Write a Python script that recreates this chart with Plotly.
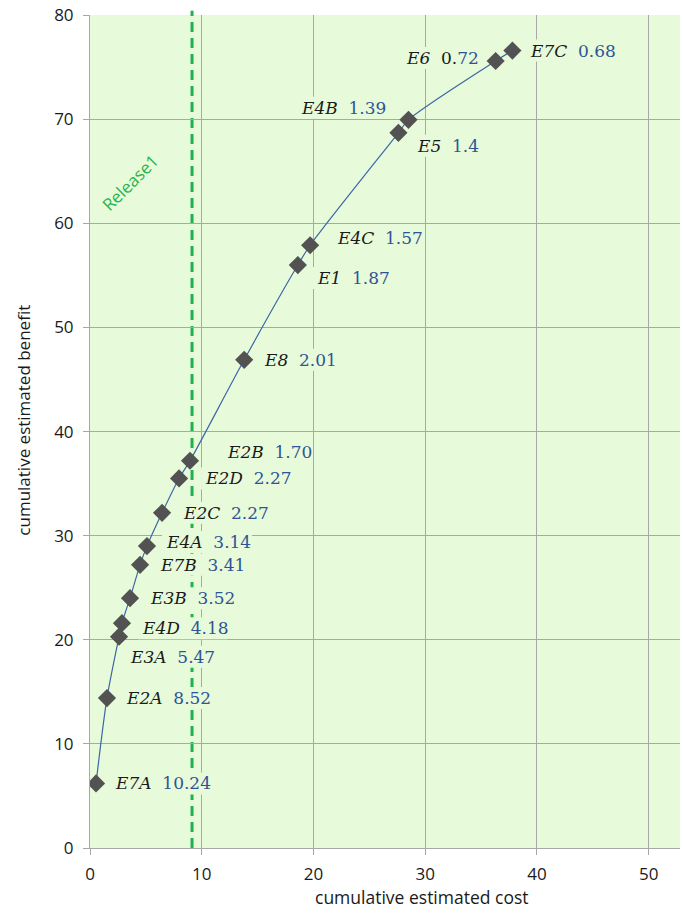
import plotly.graph_objects as go

# ---- data ----
names = ["E7A", "E2A", "E3A", "E4D", "E3B", "E7B", "E4A", "E2C", "E2D", "E2B",
         "E8", "E1", "E4C", "E5", "E4B", "E6", "E7C"]
ratios = ["10.24", "8.52", "5.47", "4.18", "3.52", "3.41", "3.14", "2.27", "2.27", "1.70",
          "2.01", "1.87", "1.57", "1.4", "1.39", "0.72", "0.68"]
cum_cost = [0.54, 1.52, 2.6, 2.86, 3.58, 4.48, 5.1, 6.45, 7.97, 8.95,
            13.8, 18.6, 19.7, 27.6, 28.5, 36.3, 37.8]
cum_benefit = [6.2, 14.4, 20.3, 21.6, 24.0, 27.2, 29.0, 32.2, 35.5, 37.2,
               46.9, 56.0, 57.9, 68.7, 69.95, 75.6, 76.6]
release_cost = 9.13
release_label = "Release1"
x_ticks = [0, 10, 20, 30, 40, 50]
y_ticks = [0, 10, 20, 30, 40, 50, 60, 70, 80]

# ---- style ----
PLOT_BG = "#e7fbda"
GRID = "#a8a8a8"
BLUE_TXT = "#2f5496"
LABEL_FONT = "DejaVu Serif"
LABEL_SIZE = 17

# label placement offsets in pixels: (anchor side, xshift, yshift)
offsets = {
    "E7A": ("left", 17, 0), "E2A": ("left", 17, 0), "E3A": ("left", 9, -20),
    "E4D": ("left", 18, -5), "E3B": ("left", 18, 0), "E7B": ("left", 18, 0),
    "E4A": ("left", 17, 4), "E2C": ("left", 19, 0), "E2D": ("left", 24, 0),
    "E2B": ("left", 35, 9), "E8": ("left", 18, 0), "E1": ("left", 17, -13),
    "E4C": ("left", 25, 7), "E5": ("left", 17, -13), "E4B": ("right", -20, 12),
    "E6": ("right", -15, 3), "E7C": ("left", 16, 0),
}

# approximate glyph widths (em) for DejaVu Serif, used to size label backgrounds
def text_width(s):
    w = 0.0
    for ch in s:
        if ch in "0123456789":
            w += 0.636
        elif ch == ".":
            w += 0.318
        elif ch == " ":
            w += 0.318
        elif ch.isupper():
            w += 0.72
        else:
            w += 0.6
    return w * LABEL_SIZE

fig = go.Figure()

fig.add_trace(go.Scatter(
    x=cum_cost, y=cum_benefit, mode="lines+markers",
    line=dict(color="#3c66a6", width=1.2, shape="spline", smoothing=0.8),
    marker=dict(symbol="diamond", size=14, color="#525252"),
    hoverinfo="skip", showlegend=False,
))

shapes = []
annotations = []
for n, r, xv, yv in zip(names, ratios, cum_cost, cum_benefit):
    side, xs, ys = offsets[n]
    w = text_width(n + "  " + r) + 4
    h = 22
    if side == "left":
        x0, x1 = xs - 2, xs + w
    else:
        x0, x1 = xs - w, xs + 2
    shapes.append(dict(
        type="rect", xref="x", yref="y", xsizemode="pixel", ysizemode="pixel",
        xanchor=xv, yanchor=yv, x0=x0, x1=x1, y0=ys - h / 2, y1=ys + h / 2,
        fillcolor=PLOT_BG, line=dict(width=0), layer="between",
    ))
    if n == "E6":
        val = "0.<span style='color:%s'>72</span>" % BLUE_TXT
    else:
        val = "<span style='color:%s'>%s</span>" % (BLUE_TXT, r)
    annotations.append(dict(
        x=xv, y=yv, xref="x", yref="y", text="<i>%s</i>\u00a0\u00a0%s" % (n, val),
        showarrow=False, xanchor=side, yanchor="middle", xshift=xs, yshift=ys,
        font=dict(family=LABEL_FONT, size=LABEL_SIZE, color="#1a1a1a"),
    ))

# release line
shapes.append(dict(
    type="line", xref="x", yref="paper", x0=release_cost, x1=release_cost, y0=0, y1=1.005,
    line=dict(color="#1fb14e", width=3, dash="10px,6px"), layer="between",
))
annotations.append(dict(
    x=3.6, y=63.9, xref="x", yref="y", text=release_label, showarrow=False,
    textangle=-45, font=dict(family="Open Sans", size=17, color="#27b44f"),
))

# axis titles
annotations.append(dict(
    x=0.5627, y=0, xref="paper", yref="paper", yshift=-49, text="cumulative estimated cost",
    showarrow=False, xanchor="center", yanchor="middle",
    font=dict(family="Open Sans", size=17.5, color="#1a1a1a"),
))
annotations.append(dict(
    x=0, y=0.513, xref="paper", yref="paper", xshift=-66, text="cumulative estimated benefit",
    showarrow=False, textangle=-90, xanchor="center", yanchor="middle",
    font=dict(family="Open Sans", size=17, color="#1a1a1a"),
))

fig.update_layout(
    width=683, height=913,
    margin=dict(l=90, r=3, t=12, b=65),
    paper_bgcolor="white", plot_bgcolor=PLOT_BG,
    shapes=shapes, annotations=annotations, showlegend=False,
    font=dict(family="Open Sans", size=17, color="#1a1a1a"),
)
fig.update_xaxes(
    range=[0, 52.8], tickvals=x_ticks, showgrid=True, gridcolor=GRID, gridwidth=1,
    zeroline=False, showline=True, linecolor=GRID, linewidth=1,
    ticks="outside", ticklen=6, tickcolor=GRID, ticklabelstandoff=5,
    tickfont=dict(family="Open Sans", size=17, color="#1a1a1a"),
)
fig.update_yaxes(
    range=[0, 80.02], tickvals=y_ticks, showgrid=True, gridcolor=GRID, gridwidth=1,
    zeroline=False, showline=True, linecolor=GRID, linewidth=1,
    ticks="outside", ticklen=6, tickcolor=GRID, ticklabelstandoff=6,
    tickfont=dict(family="Open Sans", size=17, color="#1a1a1a"),
)

fig.write_html(
    "out.html",
    config={"displayModeBar": False},
    post_script="document.body.style.margin='0px';document.body.style.overflow='hidden';",
)
